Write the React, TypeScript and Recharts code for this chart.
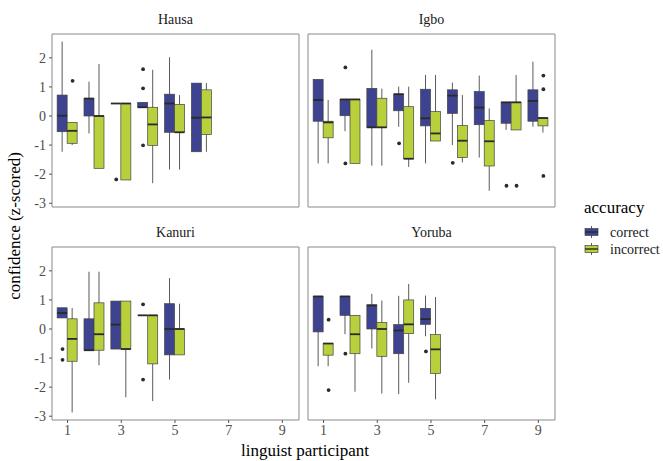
import React from 'react';
import { ComposedChart, Bar, Scatter, XAxis, YAxis, ReferenceArea } from 'recharts';

type Box = [number, number, number, number, number]; // [whiskerLow, q1, median, q3, whiskerHigh]
type Pt = [number, number]; // [participant, value]

const PARTICIPANTS = [1, 2, 3, 4, 5, 6, 7, 8, 9];
const X_TICKS = [1, 3, 5, 7, 9];
const Y_TICKS = [-3, -2, -1, 0, 1, 2];
const ACCURACY = ['correct', 'incorrect'];
const FILLS = ['#3d4291', '#b7d03b'];

const HAUSA_CORRECT: Box[] = [
  [-1.23, -0.54, 0.01, 0.72, 2.56],
  [-0.6, 0, 0.6, 0.6, 1.18],
  [0.43, 0.43, 0.43, 0.43, 0.43],
  [0.3, 0.3, 0.3, 0.47, 0.47],
  [-1.84, -0.56, 0.43, 0.75, 2.02],
  [-1.23, -1.23, -0.06, 1.13, 1.13],
];
const HAUSA_INCORRECT: Box[] = [
  [-1.0, -0.94, -0.51, -0.22, -0.22],
  [-1.8, -1.8, 0, 0, 1.79],
  [-2.2, -2.2, 0.43, 0.43, 0.43],
  [-2.31, -1.01, -0.29, 0.3, 1.59],
  [-1.84, -0.56, -0.56, 0.4, 0.72],
  [-1.23, -0.64, -0.05, 0.9, 1.13],
];
const HAUSA_OUT_CORRECT: Pt[] = [[3, -2.18], [4, 1.61], [4, 0.95], [4, -1.01]];
const HAUSA_OUT_INCORRECT: Pt[] = [[1, 1.21]];

const IGBO_CORRECT: Box[] = [
  [-1.63, -0.18, 0.55, 1.26, 1.26],
  [-0.52, 0.01, 0.57, 0.57, 0.57],
  [-1.71, -0.39, -0.39, 0.95, 2.28],
  [-0.37, 0.18, 0.75, 0.75, 1.01],
  [-1.63, -0.34, -0.08, 0.92, 1.41],
  [-1.0, 0.09, 0.7, 0.9, 1.15],
  [-1.43, -0.3, 0.29, 0.84, 1.39],
  [-0.48, -0.25, 0.47, 0.47, 0.47],
  [-0.37, -0.18, 0.52, 0.9, 1.87],
];
const IGBO_INCORRECT: Box[] = [
  [-1.63, -0.75, -0.22, -0.18, 0.55],
  [-1.63, -1.63, 0.57, 0.57, 0.57],
  [-1.71, -0.39, -0.39, 0.61, 0.94],
  [-1.75, -1.47, -1.47, 0.32, 1.01],
  [-0.86, -0.86, -0.6, 0.15, 1.41],
  [-1.6, -1.43, -0.85, -0.33, 0.72],
  [-2.57, -1.72, -0.87, -0.16, 0.26],
  [-0.48, -0.48, 0.47, 0.47, 1.41],
  [-0.57, -0.34, -0.07, -0.07, -0.07],
];
const IGBO_OUT_CORRECT: Pt[] = [[2, 1.67], [2, -1.63], [4, -0.94], [6, -1.61], [8, -2.4]];
const IGBO_OUT_INCORRECT: Pt[] = [[8, -2.4], [9, 1.39], [9, 0.92], [9, -2.06]];

const KANURI_CORRECT: Box[] = [
  [0.38, 0.38, 0.55, 0.73, 0.73],
  [-0.73, -0.73, -0.73, 0.35, 1.97],
  [-0.69, -0.69, 0.15, 0.96, 0.96],
  [0.47, 0.47, 0.47, 0.47, 0.47],
  [-1.74, -0.89, 0, 0.87, 1.75],
];
const KANURI_INCORRECT: Box[] = [
  [-2.87, -1.11, -0.34, 0.35, 0.72],
  [-1.25, -0.73, -0.18, 0.9, 1.97],
  [-2.35, -0.69, -0.69, 0.96, 0.96],
  [-2.48, -1.2, 0.47, 0.47, 0.47],
  [-0.89, -0.89, 0, 0, 0.87],
];
const KANURI_OUT_CORRECT: Pt[] = [[1, -0.69], [1, -1.06], [4, 0.85], [4, -1.74]];
const KANURI_OUT_INCORRECT: Pt[] = [];

const YORUBA_CORRECT: Box[] = [
  [-1.28, -0.1, 1.12, 1.12, 1.12],
  [-0.18, 0.47, 1.12, 1.12, 1.12],
  [-0.67, 0, 0.81, 0.83, 1.21],
  [-2.24, -0.85, -0.05, 0.15, 1.14],
  [-0.25, 0.16, 0.34, 0.71, 1.15],
];
const YORUBA_INCORRECT: Box[] = [
  [-1.28, -0.9, -0.5, -0.5, -0.5],
  [-2.16, -0.85, -0.18, 0.47, 0.47],
  [-2.22, -0.94, 0, 0.22, 0.98],
  [-1.85, -0.16, 0.16, 1.0, 1.55],
  [-2.42, -1.53, -0.7, -0.19, 1.1],
];
const YORUBA_OUT_CORRECT: Pt[] = [[2, -0.85], [5, -0.77]];
const YORUBA_OUT_INCORRECT: Pt[] = [[1, 0.32], [1, -2.1]];

const PANELS = [
  { title: 'Hausa', col: 0, row: 0, boxes: [HAUSA_CORRECT, HAUSA_INCORRECT], outs: [HAUSA_OUT_CORRECT, HAUSA_OUT_INCORRECT] },
  { title: 'Igbo', col: 1, row: 0, boxes: [IGBO_CORRECT, IGBO_INCORRECT], outs: [IGBO_OUT_CORRECT, IGBO_OUT_INCORRECT] },
  { title: 'Kanuri', col: 0, row: 1, boxes: [KANURI_CORRECT, KANURI_INCORRECT], outs: [KANURI_OUT_CORRECT, KANURI_OUT_INCORRECT] },
  { title: 'Yoruba', col: 1, row: 1, boxes: [YORUBA_CORRECT, YORUBA_INCORRECT], outs: [YORUBA_OUT_CORRECT, YORUBA_OUT_INCORRECT] },
];

// layout
const FONT = 'Liberation Serif, Tinos, DejaVu Serif, serif';
const X_DOMAIN: [number, number] = [0.42, 9.62];
const Y_DOMAIN: [number, number] = [-3.13, 2.82];
const PLOT_LEFT = [52, 308];
const PLOT_TOP = [34, 247];
const PW = 247;
const PH = 173;
const DODGE = 0.1875;
const BOX_W = 10;

const makeBoxShape = (key: string, fill: string) => (props: any) => {
  const { x, y, width, height } = props;
  const payload = props.payload || {};
  const b: Box | null = payload[key];
  if (!b || x == null || y == null) return <g />;
  const [lo, q1, med, q3, hi] = b;
  const top = Math.min(y, y + (height || 0));
  const h = Math.abs(height || 0);
  const span = hi - lo;
  const ppu = span > 0 ? h / span : 0;
  const py = (v: number) => top + (hi - v) * ppu;
  const cx = x + width / 2;
  return (
    <g>
      <line x1={cx} x2={cx} y1={py(hi)} y2={py(lo)} stroke="#5a5a5a" strokeWidth={1} />
      <rect x={x} y={py(q3)} width={width} height={Math.max(py(q1) - py(q3), 0)} fill={fill} stroke="#444" strokeWidth={0.7} />
      <line x1={x} x2={x + width} y1={py(med)} y2={py(med)} stroke="#2a2a2a" strokeWidth={1.8} />
    </g>
  );
};

const Dot = (props: any) => (props.cx == null ? <g /> : <circle cx={props.cx} cy={props.cy} r={1.9} fill="#2b2b2b" />);

function Panel({ cfg }: { cfg: (typeof PANELS)[number] }) {
  const showY = cfg.col === 0;
  const showX = cfg.row === 1;
  const YW = showY ? 52 : 0;
  const XH = showX ? 24 : 0;
  const M = 8;
  const plotL = PLOT_LEFT[cfg.col];
  const plotT = PLOT_TOP[cfg.row];
  const rows = PARTICIPANTS.map((p, i) => ({
    x: p,
    correct: cfg.boxes[0][i] ?? null,
    incorrect: cfg.boxes[1][i] ?? null,
  }));
  const outData = cfg.outs.map((arr, k) => arr.map(([p, v]) => ({ x: p + (k === 0 ? -DODGE : DODGE), y: v })));
  const tickStyle = { fill: '#4d4d4d', fontSize: 14, fontFamily: FONT };
  return (
    <div style={{ position: 'absolute', left: plotL - YW - M, top: plotT - M }}>
      <ComposedChart
        width={PW + YW + 2 * M}
        height={PH + XH + 2 * M}
        data={rows}
        margin={{ top: M, right: M, bottom: M, left: M }}
        barGap={0}
        style={{ fontFamily: FONT }}
      >
        <XAxis
          xAxisId="main"
          dataKey="x"
          type="number"
          domain={X_DOMAIN}
          ticks={X_TICKS}
          allowDataOverflow
          hide={!showX}
          height={XH}
          axisLine={false}
          tickSize={3}
          tickMargin={2}
          tickLine={{ stroke: '#555' }}
          tick={tickStyle}
          interval={0}
        />
        <XAxis xAxisId="out" dataKey="x" type="number" domain={X_DOMAIN} allowDataOverflow hide />
        <YAxis
          type="number"
          domain={Y_DOMAIN}
          ticks={Y_TICKS}
          allowDataOverflow
          hide={!showY}
          width={YW}
          axisLine={false}
          tickSize={3}
          tickMargin={3}
          tickLine={{ stroke: '#555' }}
          tick={tickStyle}
          interval={0}
        />
        <ReferenceArea
          xAxisId="main"
          x1={X_DOMAIN[0]}
          x2={X_DOMAIN[1]}
          y1={Y_DOMAIN[0]}
          y2={Y_DOMAIN[1]}
          fill="#ffffff"
          fillOpacity={0}
          stroke="#8a8a8a"
          strokeWidth={1}
          ifOverflow="visible"
        />
        {ACCURACY.map((key, k) => (
          <Bar
            key={key}
            xAxisId="main"
            dataKey={(d: any) => (d[key] ? [d[key][0], d[key][4]] : null)}
            barSize={BOX_W}
            shape={makeBoxShape(key, FILLS[k])}
            isAnimationActive={false}
          />
        ))}
        {ACCURACY.map((key, k) => (
          <Scatter key={key + '-out'} xAxisId="out" data={outData[k]} dataKey="y" shape={Dot} isAnimationActive={false} />
        ))}
      </ComposedChart>
    </div>
  );
}

export default function App() {
  return (
    <div style={{ position: 'absolute', left: 0, top: 0, width: 663, height: 461, background: '#fff', overflow: 'hidden', fontFamily: FONT }}>
      <svg width={663} height={461} style={{ position: 'absolute', left: 0, top: 0, fontFamily: FONT }}>
        {PANELS.map((p) => (
          <text
            key={p.title}
            x={PLOT_LEFT[p.col] + PW / 2}
            y={PLOT_TOP[p.row] - 10}
            textAnchor="middle"
            fontSize={14}
            fill="#1a1a1a"
            style={{ fontFamily: FONT }}
          >
            {p.title}
          </text>
        ))}
        <text transform="translate(20,226) rotate(-90)" textAnchor="middle" fontSize={17} fill="#000" style={{ fontFamily: FONT }}>
          confidence (z-scored)
        </text>
        <text x={305} y={456} textAnchor="middle" fontSize={17} fill="#000" style={{ fontFamily: FONT }}>
          linguist participant
        </text>
        <text x={584} y={213} fontSize={17} fill="#000" style={{ fontFamily: FONT }}>
          accuracy
        </text>
        {ACCURACY.map((a, k) => {
          const cy = 232 + k * 17;
          return (
            <g key={a}>
              <line x1={591.5} x2={591.5} y1={cy - 6} y2={cy + 6} stroke="#5a5a5a" />
              <rect x={585} y={cy - 3.5} width={13} height={7} fill={FILLS[k]} stroke="#444" strokeWidth={0.7} />
              <line x1={585} x2={598} y1={cy} y2={cy} stroke="#2a2a2a" strokeWidth={1.4} />
              <text x={610} y={cy + 4.5} fontSize={14} fill="#1a1a1a" style={{ fontFamily: FONT }}>
                {a}
              </text>
            </g>
          );
        })}
      </svg>
      {PANELS.map((p) => (
        <Panel key={p.title} cfg={p} />
      ))}
    </div>
  );
}
